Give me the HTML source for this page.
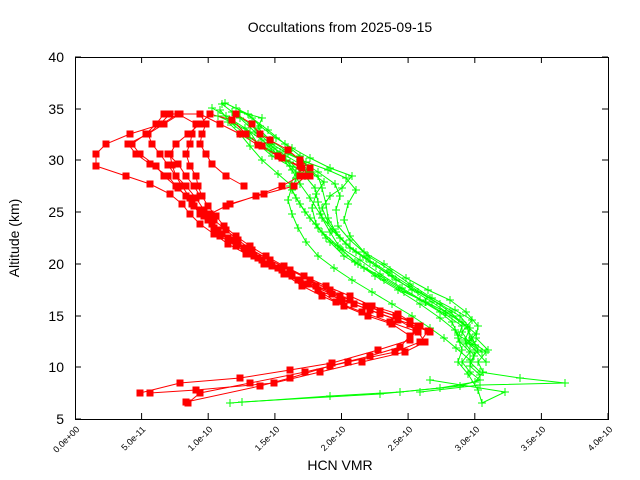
<!DOCTYPE html>
<html><head><meta charset="utf-8"><style>
body{margin:0;background:#fff;}
svg{display:block;font-family:"Liberation Sans",sans-serif;}
</style></head><body>
<svg width="640" height="480" viewBox="0 0 640 480" xmlns="http://www.w3.org/2000/svg">
<defs>
<rect id="s" x="-3.5" y="-3.5" width="7" height="7" fill="#f00"/>
<path id="p" d="M-4 0H4M0 -4V4" stroke="#0f0" stroke-width="1"/>
</defs>
<text x="340" y="32" font-size="14" text-anchor="middle">Occultations from 2025-09-15</text>
<rect x="75.5" y="57.5" width="533" height="362" fill="none" stroke="#000"/>
<g stroke="#000">
<path d="M75 57h6M75 109h6M75 160h6M75 212h6M75 264h6M75 316h6M75 367h6M75 419h6
M608 57h-6M608 109h-6M608 160h-6M608 212h-6M608 264h-6M608 316h-6M608 367h-6
M75.5 419v-6M141.6 419v-6M208.2 419v-6M274.9 419v-6M341.5 419v-6M408.1 419v-6M474.8 419v-6M541.4 419v-6M608 419v-6
M141.6 57v6M208.2 57v6M274.9 57v6M341.5 57v6M408.1 57v6M474.8 57v6M541.4 57v6"/>
</g>
<g font-size="14" text-anchor="end">
<text x="64" y="62">40</text><text x="64" y="114">35</text><text x="64" y="165">30</text><text x="64" y="217">25</text><text x="64" y="269">20</text><text x="64" y="321">15</text><text x="64" y="372">10</text><text x="64" y="424">5</text>
</g>
<g font-size="9" text-anchor="end">
<text transform="translate(80,430) rotate(-45)">0.0e+00</text>
<text transform="translate(146,430) rotate(-45)">5.0e-11</text>
<text transform="translate(213,430) rotate(-45)">1.0e-10</text>
<text transform="translate(280,430) rotate(-45)">1.5e-10</text>
<text transform="translate(346,430) rotate(-45)">2.0e-10</text>
<text transform="translate(413,430) rotate(-45)">2.5e-10</text>
<text transform="translate(480,430) rotate(-45)">3.0e-10</text>
<text transform="translate(546,430) rotate(-45)">3.5e-10</text>
<text transform="translate(613,430) rotate(-45)">4.0e-10</text>
</g>
<text x="340" y="470" font-size="14" text-anchor="middle">HCN VMR</text>
<text transform="translate(19,238) rotate(-90)" font-size="14" text-anchor="middle">Altitude (km)</text>

<g fill="none" stroke="#0f0" stroke-width="1">
<polyline points="230,403 330,396 400,392 460,386 480,380 470,372 462,362 470,352 460,342 455,330 440,318 420,304 398,290 375,276 355,262 340,248 330,232 322,218 318,202 315,188 305,176 290,162 270,150 250,138 230,122 220,110"/>
<polyline points="242,402 380,394 440,388 475,382 483,372 478,362 486,352 470,340 468,328 452,316 432,302 412,290 392,276 370,262 350,248 336,232 328,218 326,204 322,188 318,176 300,164 280,152 262,140 245,128 226,116 212,108"/>
<polyline points="420,392 480,385 565,383 520,378 480,372 470,362 478,350 472,338 466,326 450,312 430,298 410,286 388,272 366,258 346,244 332,230 320,214 310,198 300,184 292,170 282,158 268,146 255,132 240,118 222,104"/>
<polyline points="430,380 505,392 482,403 478,390 468,374 458,362 462,350 458,338 462,326 445,314 425,302 402,288 380,274 360,260 338,246 322,232 310,218 300,204 292,190 296,178 308,168 300,156 285,144 268,130 252,118 236,108"/>
<polyline points="486,362 475,350 465,340 470,328 460,316 440,304 418,292 396,280 376,266 356,252 340,238 328,222 322,208 330,196 342,188 352,176 330,168 310,158 292,148 276,138 260,126 248,114 225,103"/>
<polyline points="482,352 470,344 462,332 472,320 455,310 432,298 410,284 390,270 368,256 350,240 338,226 336,210 340,196 335,184 318,172 300,160 285,150 270,140 258,128 262,118 240,112"/>
<polyline points="475,345 458,335 452,322 440,312 420,300 400,288 380,276 358,264 342,250 326,238 316,224 312,208 316,194 324,182 310,172 290,166 272,156 258,144 250,132 235,124 218,116"/>
<polyline points="480,375 470,366 474,356 466,344 476,334 462,322 446,312 426,302 404,292 384,280 364,268 344,256 330,242 318,228 305,212 296,198 290,186 296,172 286,160 274,148 262,136 250,124 232,112"/>
<polyline points="470,360 456,348 444,338 430,328 412,316 392,304 372,292 352,280 334,268 318,256 306,242 298,228 292,214 288,200 292,186 278,174 262,160 250,146 240,134 228,122"/>
<polyline points="488,350 476,338 478,326 466,312 450,300 428,290 406,278 384,264 364,252 350,236 344,220 348,204 356,190 346,178 328,170 306,162 288,154 272,144"/>
</g>
<g fill="none" stroke="#f00" stroke-width="1">
<polyline points="188,403 200,393 250,383 305,372 348,362 395,352 420,342 428,331 410,321 380,311 350,300 330,290 310,280 290,270 270,260 252,250 238,240 226,230 214,220 204,210 196,198 186,186 176,176 168,165 160,154 152,144 148,134 160,124 170,114 200,114 220,124 240,134 258,145 278,156 300,166 310,176"/>
<polyline points="140,393 180,383 240,378 290,370 332,363 378,350 410,340 416,330 398,320 370,310 342,300 318,290 300,280 282,270 262,260 246,250 232,240 218,230 208,220 200,210 190,198 182,186 176,176 172,165 170,154 176,144 188,134 200,124 210,114 232,120 246,134 262,146 282,158 302,168"/>
<polyline points="150,393 196,390 274,383 320,372 362,362 405,352 425,342 418,332 390,322 362,312 336,302 318,290 298,280 278,268 258,258 244,248 228,238 214,228 204,216 194,206 186,196 176,186 168,176 150,164 136,154 128,144 148,134 164,124 180,114 200,114 206,124 202,134 200,144 206,154 212,164 226,176 244,186"/>
<polyline points="186,402 260,386 290,378 330,366 370,356 400,347 410,336 392,324 368,316 344,306 322,296 302,286 284,274 266,264 252,254 238,244 222,234 212,224 200,214 192,204 186,196 178,188 164,176 156,166 140,154 132,144 146,134 156,124 164,114"/>
<polyline points="96,166 96,154 106,144 130,134 162,124 178,114 196,124 192,134 190,144 186,154 190,166 196,176 198,186 202,196 208,206 216,216 224,226 236,236 250,246 266,256 284,266 304,276 326,286 350,296 372,306 398,314 418,326"/>
<polyline points="96,166 126,176 150,184 170,194 182,204 190,214 200,224 214,234 228,244 246,254 264,264 286,274 308,284 332,294 354,304 380,314 410,324 430,332"/>
<polyline points="300,176 282,186 256,196 226,206 210,214 230,204 264,194 294,186 306,176 310,168 300,160 288,150 270,140 260,134 252,124 236,114"/>
<polyline points="168,154 178,164 186,176 194,186 200,196"/>
<polyline points="220,236 236,246 254,256 272,266 292,276 316,286 340,296 366,306 396,316 420,326"/>
</g>
</svg>
<script>
var ns="http://www.w3.org/2000/svg";
var svg=document.querySelector('svg');
document.querySelectorAll('polyline').forEach(function(pl){
 var red=pl.parentNode.getAttribute('stroke')=='#f00';
 var pts=pl.getAttribute('points').trim().split(/\s+/);
 pts.forEach(function(p){var c=p.split(',');var u=document.createElementNS(ns,'use');
 u.setAttribute('href',red?'#s':'#p');u.setAttribute('x',c[0]);u.setAttribute('y',c[1]);svg.appendChild(u);});
});
</script>
</body></html>
